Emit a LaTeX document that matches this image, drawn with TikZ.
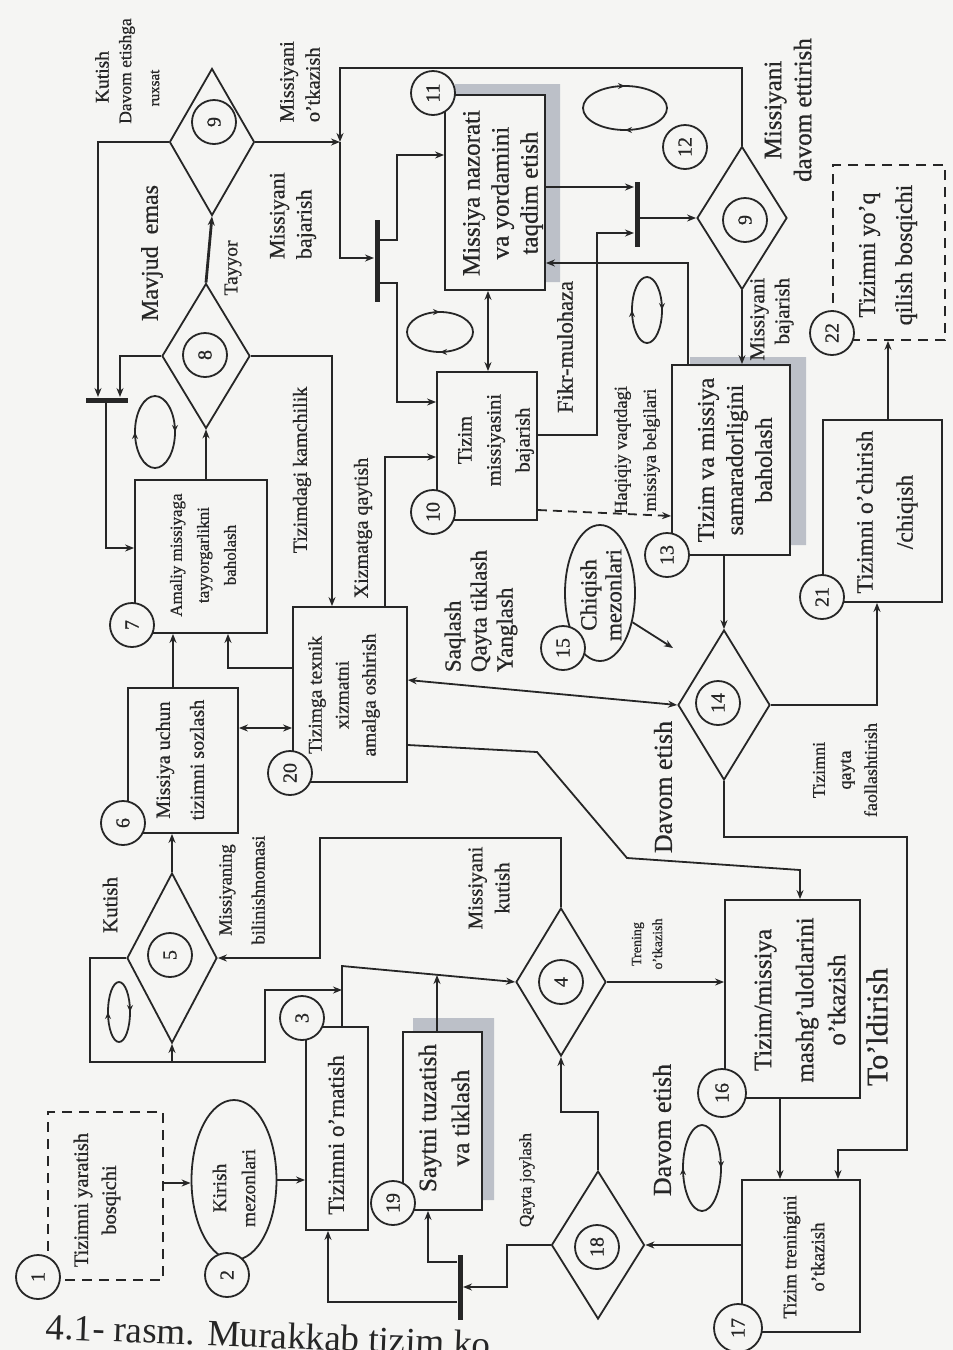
\documentclass[tikz,border=0pt]{standalone}
\usepackage{fontspec}
\setmainfont[FakeBold=0.7]{Liberation Serif}
\newfontfamily\capfont{Liberation Serif}
\usetikzlibrary{arrows.meta,shapes.geometric,decorations.markings}
\definecolor{ink}{HTML}{262626}
\definecolor{paper}{HTML}{F5F5F3}
\definecolor{shade}{HTML}{BCC0C8}
\newcommand{\fsz}[2]{\fontsize{#1}{#2}\selectfont}

\tikzset{
  box/.style={draw=ink, rectangle, inner sep=0pt},
  dbox/.style={box, dash pattern=on 10pt off 7pt},
  dia/.style={draw=ink, diamond, inner sep=0pt, minimum width=90pt, minimum height=148pt},
  oval/.style={draw=ink, ellipse, inner sep=0pt},
  num/.style={draw=ink, circle, fill=paper, minimum size=44pt, inner sep=0pt, rotate=90, font=\fsz{20}{20}},
  txt/.style={rotate=90, align=center, inner sep=0pt, text=ink},
  tip/.style={-{Stealth[length=9pt,width=7pt]}},
  tips/.style={{Stealth[length=9pt,width=7pt]}-{Stealth[length=9pt,width=7pt]}},
  bar/.style={line width=5pt},
  shadow/.style={fill=shade, draw=none},
  cyc/.style={postaction={decorate, decoration={markings,
      mark=at position 0.25 with {\arrow{Stealth[length=7pt,width=6pt]}},
      mark=at position 0.75 with {\arrow{Stealth[length=7pt,width=6pt]}}}}},
}

\begin{document}
\begin{tikzpicture}[x=1pt, y=-1pt, line width=1.8pt, color=ink]
\fill[paper] (0,0) rectangle (953,1350);
\useasboundingbox (0,0) rectangle (953,1350);
\clip (0,0) rectangle (953,1350);

% grey shadows behind some boxes
\fill[shadow] (455,84) -- (560,84) -- (560,282) -- (545,282) -- (545,95) -- (455,95) -- cycle;
\fill[shadow] (690,357) -- (806,357) -- (806,545) -- (790,545) -- (790,366) -- (690,366) -- cycle;
\fill[shadow] (413,1018) -- (494,1018) -- (494,1200) -- (482,1200) -- (482,1032) -- (413,1032) -- cycle;

% boxes and ovals
\node[dbox, minimum width=115pt, minimum height=168pt] (n1) at (105.5,1196) {};
\node[oval, minimum width=85pt, minimum height=160pt] (n2) at (234,1180) {};
\node[box, minimum width=62pt, minimum height=203pt] (n3) at (337,1128.5) {};
\node[box, minimum width=79pt, minimum height=178pt] (n19) at (442.5,1121) {};
\node[box, minimum width=110pt, minimum height=145pt] (n6) at (183,760.5) {};
\node[box, minimum width=132pt, minimum height=153pt] (n7) at (201,556.5) {};
\node[box, minimum width=114pt, minimum height=175pt] (n20) at (350,694.5) {};
\node[box, minimum width=100pt, minimum height=148pt] (n10) at (487,446) {};
\node[box, minimum width=100pt, minimum height=195pt] (n11) at (495,192.5) {};
\node[box, minimum width=118pt, minimum height=190pt] (n13) at (731,460) {};
\node[box, minimum width=119pt, minimum height=182pt] (n21) at (882.5,511) {};
\node[dbox, minimum width=112pt, minimum height=175pt] (n22) at (889,252.5) {};
\node[box, minimum width=135pt, minimum height=198pt] (n16) at (792.5,999) {};
\node[box, minimum width=118pt, minimum height=152pt] (n17) at (801,1256) {};
\node[oval, minimum width=70pt, minimum height=136pt] (n15) at (600,593) {};

% decision diamonds
\node[dia, minimum height=170pt] (d5) at (172,958) {};
\node[dia] (d4) at (561,982) {};
\node[dia, minimum width=88pt, minimum height=145pt] (d8) at (206,356) {};
\node[dia, minimum width=85pt, minimum height=147pt] (d9) at (212,142) {};
\node[dia, minimum height=143pt] (d12) at (742,218) {};
\node[dia, minimum width=92pt, minimum height=150pt] (d14) at (724,705) {};
\node[dia, minimum width=93pt] (d18) at (598,1245) {};

% synchronisation bars
\coordinate (b1l) at (86,400);  \coordinate (b1r) at (128,400);
\coordinate (b2t) at (377,220); \coordinate (b2b) at (377,302);
\coordinate (b3t) at (637,182); \coordinate (b3b) at (637,247);
\coordinate (b4t) at (460,1255); \coordinate (b4b) at (460,1320);
\draw[bar] (b1l) -- (b1r);
\draw[bar] (b2t) -- (b2b);
\draw[bar] (b3t) -- (b3b);
\draw[bar] (b4t) -- (b4b);

% junction points
\coordinate (j3) at (342,966);
\coordinate (j19) at (437,975);
\coordinate (j5) at (342,990);
\coordinate (j9) at (340,142);
\coordinate (e15) at (673,648);

% connectors, lower left part
\draw[tip] (n1.east |- 0,1183) -- (n2.west |- 0,1183);
\draw[tip] (n2.east) -- (n2.east -| n3.west);
\draw[tip] (n3.north -| j3) -- (j3) -- (d4.west);
\draw[tip] (n19.north -| j19) -- (j19);
\draw[tip] (d5.west) -| (90,1062) -| (265,990) -- (j5);
\draw[tip] (d5.south |- 0,1062) -- (d5.south);
\draw[tip] (d4.north) |- (320,838) |- (d5.east);
\draw[tip] (d5.north) -- (d5.north |- n6.south);

% connectors, left column
\draw[tip] (n6.north -| 173,0) -- (n7.south -| 173,0);
\draw[tip] (n20.west |- 0,668) -| (n7.south -| 228,0);
\draw[tips] (n6.east |- 0,728) -- (n20.west |- 0,728);
\draw[tip] (d9.west) -| (98,397);
\draw[tip] (d8.west) -| (120,397);
\draw[tip] (106,402) |- (n7.west |- 0,548);
\draw[tip, line width=2.8pt] (n7.north -| d8.south) -- (d8.south);
\draw[tip] (d8.east) -| (n20.north -| 332,0);
\draw[tip, line width=2.8pt] (d8.north) -- (d9.south);

% connectors, upper part
\draw[tip] (d9.east) -- (j9);
\draw[tip] (d12.north) |- (340,68) -- (j9);
\draw[tip] (j9) |- (374,258);
\draw[tip] (380,240) -| (397,155) -- (n11.west |- 0,155);
\draw[tip] (380,283) -| (397,402) -- (n10.west |- 0,402);
\draw[tip] (n20.north -| 385,0) |- (n10.west |- 0,457);
\draw[tips] (n10.north -| 488,0) -- (n11.south -| 488,0);
\draw[tip] (n11.east |- 0,187) -- (634,187);
\draw[tip] (640,218) -- (d12.west);
\draw[tip] (n10.east |- 0,435) -| (597,233) -- (634,233);
\draw[tip] (n13.north -| 688,0) |- (n11.east |- 0,263);
\draw[tip] (d12.south) -- (d12.south |- n13.north);
\draw[tip, dash pattern=on 9pt off 6pt] (n10.east |- 0,510) -- (n13.west |- 0,516);

% connectors, right part
\draw[tip] (d14.north |- n13.south) -- (d14.north);
\draw[tip] (n15.-42) -- (e15);
\draw[tips] (n20.east |- 0,680) -- (d14.west);
\draw[tip] (n20.east |- 0,745) -- (537,752) -- (627,858) -- (800,870) -- (n16.north -| 800,0);
\draw[tip] (d14.east) -| (n21.south -| 877,0);
\draw[tip] (n21.north -| 888,0) -- (n22.south -| 888,0);
\draw[tip] (d14.south) |- (907,837) |- (838,1150) -- (n17.north -| 838,0);
\draw[tip] (d4.east) -- (d4.east -| n16.west);
\draw[tip] (n16.south -| 780,0) -- (n17.north -| 780,0);
\draw[tip] (n17.west |- d18.east) -- (d18.east);
\draw[tip] (d18.north) |- (d4.south |- 0,1112) -- (d4.south);
\draw[tip] (d18.west) -| (507,1287) -- (463,1287);
\draw[tip] (457,1262) -| (n19.south -| 428,0);
\draw[tip] (457,1302) -| (n3.south -| 328,0);

% small cycle marks
\draw[cyc, rotate around={90:(119,1012)}] (119,1012) ellipse [x radius=30, y radius=11];
\draw[cyc, rotate around={90:(155,432)}] (155,432) ellipse [x radius=36, y radius=20];
\draw[cyc] (440,332) ellipse [x radius=33, y radius=20];
\draw[cyc] (625,108) ellipse [x radius=42, y radius=22];
\draw[cyc, rotate around={90:(647,310)}] (647,310) ellipse [x radius=33, y radius=15];
\draw[cyc, rotate around={90:(702,1168)}] (702,1168) ellipse [x radius=43, y radius=19];

% texts inside boxes
\node[txt, font=\fsz{20.5}{28}] at (97,1200) {Tizimni yaratish\\bosqichi};
\node[txt, font=\fsz{19.5}{29}] at (234,1188) {Kirish\\mezonlari};
\node[txt, font=\fsz{23}{24}] at (336,1135) {Tizimni o'rnatish};
\node[txt, font=\fsz{25}{33}] at (444,1118) {Saytni tuzatish\\va tiklash};
\node[txt, font=\fsz{20}{34}] at (180,760) {Missiya uchun\\tizimni sozlash};
\node[txt, font=\fsz{17}{27}] at (203,555) {Amaliy missiyaga\\tayyorgarlikni\\baholash};
\node[txt, font=\fsz{19.5}{27}] at (344,695) {Tizimga texnik\\xizmatni\\amalga oshirish};
\node[txt, font=\fsz{20.5}{29}] at (496,440) {Tizim\\missiyasini\\bajarish};
\node[txt, font=\fsz{25}{29}] at (503,193) {Missiya nazorati\\va yordamini\\taqdim etish};
\node[txt, font=\fsz{24}{29}] at (735,460) {Tizim va missiya\\samaradorligini\\baholash};
\node[txt, font=\fsz{23.5}{40}] at (887,512) {Tizimni o'chirish\\/chiqish};
\node[txt, font=\fsz{24}{37}] at (888,255) {Tizimni yo'q\\qilish bosqichi};
\node[txt, font=\fsz{25}{32}] at (800,1000) {Tizim/missiya\\[10pt]mashg'ulotlarini\\o'tkazish};
\node[txt, font=\fsz{19}{28}] at (804,1257) {Tizim treningini\\o'tkazish};
\node[txt, font=\fsz{23}{25}] at (601,595) {Chiqish\\mezonlari};

% connector labels
\node[txt, font=\fsz{19.5}{20}] at (102,77) {Kutish};
\node[txt, font=\fsz{17.5}{20}] at (127,71) {Davom etishga};
\node[txt, font=\fsz{15}{20}] at (155,88) {ruxsat};
\node[txt, font=\fsz{24}{24}] at (152,253) {Mavjud\hspace{12pt}emas};
\node[txt, font=\fsz{19.5}{20}] at (233,268) {Tayyor};
\node[txt, font=\fsz{20.5}{26}, anchor=west, align=left] at (300,123) {Missiyani\\o'tkazish};
\node[txt, font=\fsz{22}{27}, anchor=west, align=left] at (293,260) {Missiyani\\bajarish};
\node[txt, font=\fsz{21}{25}, anchor=east, align=right] at (772,277) {Missiyani\\bajarish};
\node[txt, font=\fsz{25}{30}] at (788,110) {Missiyani\\davom ettirish};
\node[txt, font=\fsz{22.5}{24}] at (565,347) {Fikr-mulohaza};
\node[txt, font=\fsz{18.5}{29}] at (637,450) {Haqiqiy vaqtdagi\\missiya belgilari};
\node[txt, font=\fsz{20}{22}] at (302,470) {Tizimdagi kamchilik};
\node[txt, font=\fsz{20}{22}] at (363,528) {Xizmatga qaytish};
\node[txt, font=\fsz{23}{26}, anchor=west, align=left] at (481,673) {Saqlash\\Qayta tiklash\\Yanglash};
\node[txt, font=\fsz{26}{26}] at (663,787) {Davom etish};
\node[txt, font=\fsz{18}{26}] at (845,770) {Tizimni\\qayta\\faollashtirish};
\node[txt, font=\fsz{21}{22}] at (110,905) {Kutish};
\node[txt, font=\fsz{18.5}{33}] at (242,890) {Missiyaning\\bilinishnomasi};
\node[txt, font=\fsz{21}{27}] at (489,888) {Missiyani\\kutish};
\node[txt, font=\fsz{14}{21}] at (647,944) {Trening\\o'tkazish};
\node[txt, font=\fsz{26}{26}] at (662,1130) {Davom etish};
\node[txt, font=\fsz{17}{20}] at (527,1180) {Qayta joylash};
\node[txt, font=\fsz{30}{30}] at (877,1027) {To'ldirish};

% numbered circles
\node[num] (c1) at (38,1277) {1};
\node[num] (c2) at (227,1275) {2};
\node[num] (c3) at (302,1018) {3};
\node[num] (c4) at (561,982) {4};
\node[num] (c5) at (170,955) {5};
\node[num] (c6) at (123,823) {6};
\node[num] (c7) at (132,625) {7};
\node[num] (c8) at (205,355) {8};
\node[num] (c9) at (214,122) {9};
\node[num] (c10) at (433,512) {10};
\node[num] (c11) at (433,93) {11};
\node[num] (c12) at (685,147) {12};
\node[num] (c9b) at (745,220) {9};
\node[num] (c13) at (667,555) {13};
\node[num] (c14) at (718,703) {14};
\node[num] (c15) at (563,648) {15};
\node[num, minimum size=48pt] (c16) at (722,1093) {16};
\node[num, minimum size=48pt] (c17) at (738,1328) {17};
\node[num] (c18) at (597,1247) {18};
\node[num] (c19) at (393,1203) {19};
\node[num] (c20) at (290,773) {20};
\node[num] (c21) at (822,597) {21};
\node[num] (c22) at (832,333) {22};

% caption
\node[anchor=base west, inner sep=0pt, rotate=-2.3, text=ink,
      font=\capfont\fontsize{37}{40}\selectfont] (cap) at (45,1339) {4.1- rasm. Murakkab tizim ko};
\end{tikzpicture}
\end{document}
